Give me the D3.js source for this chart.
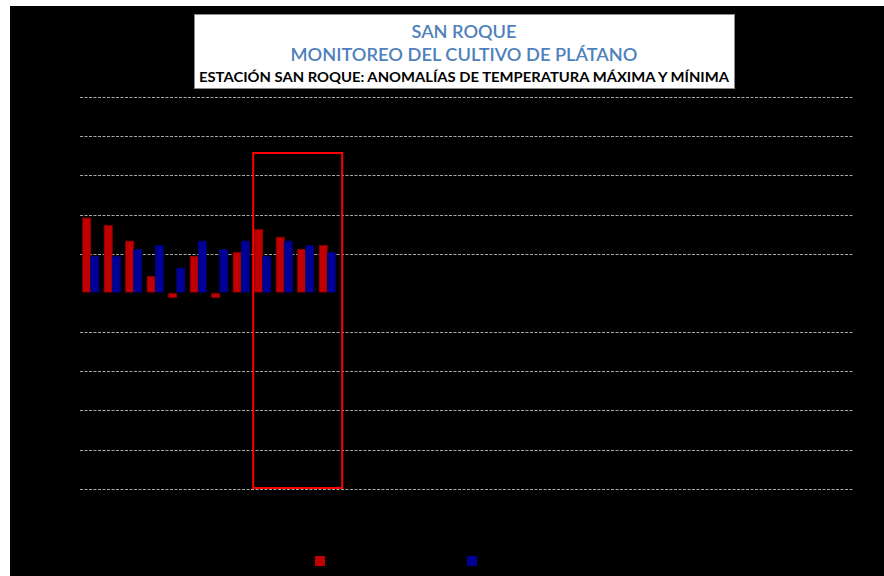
<!DOCTYPE html>
<html lang="es">
<head>
<meta charset="UTF-8">
<title>San Roque - anomalías de temperatura</title>
<script src="https://d3js.org/d3.v7.min.js"></script>
<style>
  body { margin: 0; background: #fff; }
  svg { display: block; }
  text { font-family: Lato, "Open Sans", sans-serif; }
</style>
</head>
<body>
<div id="chart"></div>
<script>
// meses (3 años), solo los 12 primeros tienen datos
var months = ["ene-1", "feb-1", "mar-1", "abr-1", "may-1", "jun-1", "jul-1", "ago-1", "sep-1", "oct-1", "nov-1", "dic-1",
              "ene-2", "feb-2", "mar-2", "abr-2", "may-2", "jun-2", "jul-2", "ago-2", "sep-2", "oct-2", "nov-2", "dic-2",
              "ene-3", "feb-3", "mar-3", "abr-3", "may-3", "jun-3", "jul-3", "ago-3", "sep-3", "oct-3", "nov-3", "dic-3"];
var anomMax = [1.91, 1.72, 1.32, 0.42, -0.12, 0.93, -0.12, 1.03, 1.62, 1.42, 1.11, 1.21];
var anomMin = [0.93, 0.93, 1.11, 1.21, 0.63, 1.32, 1.11, 1.32, 0.93, 1.32, 1.21, 1.03];
var yTicks = [-5, -4, -3, -2, -1, 0, 1, 2, 3, 4, 5];
var seriesNames = ["Anomalía T. Máxima", "Anomalía T. Mínima"];
var titleLines = ["SAN ROQUE", "MONITOREO DEL CULTIVO DE PLÁTANO",
                  "ESTACIÓN SAN ROQUE: ANOMALÍAS DE TEMPERATURA  MÁXIMA Y MÍNIMA"];

var W = 884, H = 576;
var plotL = 80, plotR = 854, plotT = 97, plotB = 488.7;

var svg = d3.select('#chart').append('svg')
    .attr('width', W)
    .attr('height', H);

svg.append('rect')
    .attr('x', 10).attr('y', 6)
    .attr('width', W - 10).attr('height', H - 6)
    .attr('fill', '#000');

var x = d3.scaleBand()
    .domain(months)
    .range([plotL, plotR])
    .paddingInner(0.25)
    .paddingOuter(0.125);

var x1 = d3.scaleBand()
    .domain([0, 1])
    .range([0, x.bandwidth()]);

var y = d3.scaleLinear()
    .domain([-5, 5])
    .range([plotB, plotT]);

// gridlines
svg.append('g')
    .selectAll('line')
    .data(yTicks.filter(function (d) { return d !== 0; }))
    .enter()
    .append('line')
    .attr('x1', plotL).attr('x2', plotR)
    .attr('y1', function (d) { return Math.round(y(d)) + 0.5; })
    .attr('y2', function (d) { return Math.round(y(d)) + 0.5; })
    .attr('stroke', '#a8a8a8')
    .attr('stroke-dasharray', '3,1.5');

// y axis (labels black, like the original)
var yAxis = svg.append('g')
    .attr('transform', 'translate(' + plotL + ',0)')
    .call(d3.axisLeft(y).tickValues(yTicks).tickSize(0).tickPadding(6));
yAxis.select('.domain').remove();
yAxis.selectAll('text').attr('fill', '#000').style('font-size', '11px');

// bars
var rows = anomMax.map(function (v, i) {
    return { m: months[i], vals: [v, anomMin[i]] };
});
var colors = ['#c00000', '#000099'];
var strokes = ['#8a0000', '#00006a'];

var groups = svg.append('g')
    .selectAll('g')
    .data(rows)
    .enter()
    .append('g')
    .attr('transform', function (d) { return 'translate(' + x(d.m) + ',0)'; });

groups.selectAll('rect')
    .data(function (d) { return d.vals; })
    .enter()
    .append('rect')
    .attr('x', function (d, i) { return x1(i); })
    .attr('y', function (d) { return y(Math.max(0, d)); })
    .attr('width', x1.bandwidth())
    .attr('height', function (d) { return Math.abs(y(d) - y(0)); })
    .attr('fill', function (d, i) { return colors[i]; })
    .attr('stroke', function (d, i) { return strokes[i]; })
    .attr('stroke-width', 0.8);

// zero axis
svg.append('line')
    .attr('x1', plotL).attr('x2', plotR)
    .attr('y1', y(0)).attr('y2', y(0))
    .attr('stroke', '#000');

// x axis labels (black on black)
var xAxis = svg.append('g')
    .attr('transform', 'translate(0,' + plotB + ')')
    .call(d3.axisBottom(x).tickSize(0).tickPadding(6));
xAxis.select('.domain').remove();
xAxis.selectAll('text').attr('fill', '#000').style('font-size', '9px')
    .attr('transform', 'rotate(-90)').attr('text-anchor', 'end')
    .attr('dx', '-0.6em').attr('dy', '-0.5em');

// highlight box around sep-dic
var bx0 = x(months[8]) - 1.5;
var bx1 = x(months[11]) + x.step() + 1.5;
svg.append('rect')
    .attr('x', bx0).attr('y', 153)
    .attr('width', bx1 - bx0).attr('height', 335)
    .attr('fill', 'none')
    .attr('stroke', '#ff0000')
    .attr('stroke-width', 2);

// title box
svg.append('rect')
    .attr('x', 194.5).attr('y', 14.5)
    .attr('width', 540).attr('height', 74)
    .attr('fill', '#fff')
    .attr('stroke', '#8c8c8c');

var tcx = 464;
svg.append('text')
    .attr('x', tcx).attr('y', 38)
    .attr('text-anchor', 'middle')
    .attr('fill', '#4f81bd')
    .style('font-size', '18px')
    .style('font-weight', '600')
    .attr('textLength', 105).attr('lengthAdjust', 'spacingAndGlyphs')
    .text(titleLines[0]);
svg.append('text')
    .attr('x', tcx).attr('y', 61)
    .attr('text-anchor', 'middle')
    .attr('fill', '#4f81bd')
    .style('font-size', '18px')
    .style('font-weight', '600')
    .attr('textLength', 347).attr('lengthAdjust', 'spacingAndGlyphs')
    .text(titleLines[1]);
svg.append('text')
    .attr('x', tcx).attr('y', 82)
    .attr('text-anchor', 'middle')
    .attr('fill', '#000')
    .style('font-size', '13.5px')
    .style('font-weight', 'bold')
    .attr('textLength', 530).attr('lengthAdjust', 'spacingAndGlyphs')
    .text(titleLines[2]);

// legend
var legX = [315, 467];
var leg = svg.append('g')
    .selectAll('g')
    .data(seriesNames)
    .enter()
    .append('g')
    .attr('transform', function (d, i) { return 'translate(' + legX[i] + ',556)'; });
leg.append('rect')
    .attr('width', 10).attr('height', 10)
    .attr('fill', function (d, i) { return colors[i]; });
leg.append('text')
    .attr('x', 14).attr('y', 9)
    .attr('fill', '#000')
    .style('font-size', '11px')
    .text(function (d) { return d; });
</script>
</body>
</html>
